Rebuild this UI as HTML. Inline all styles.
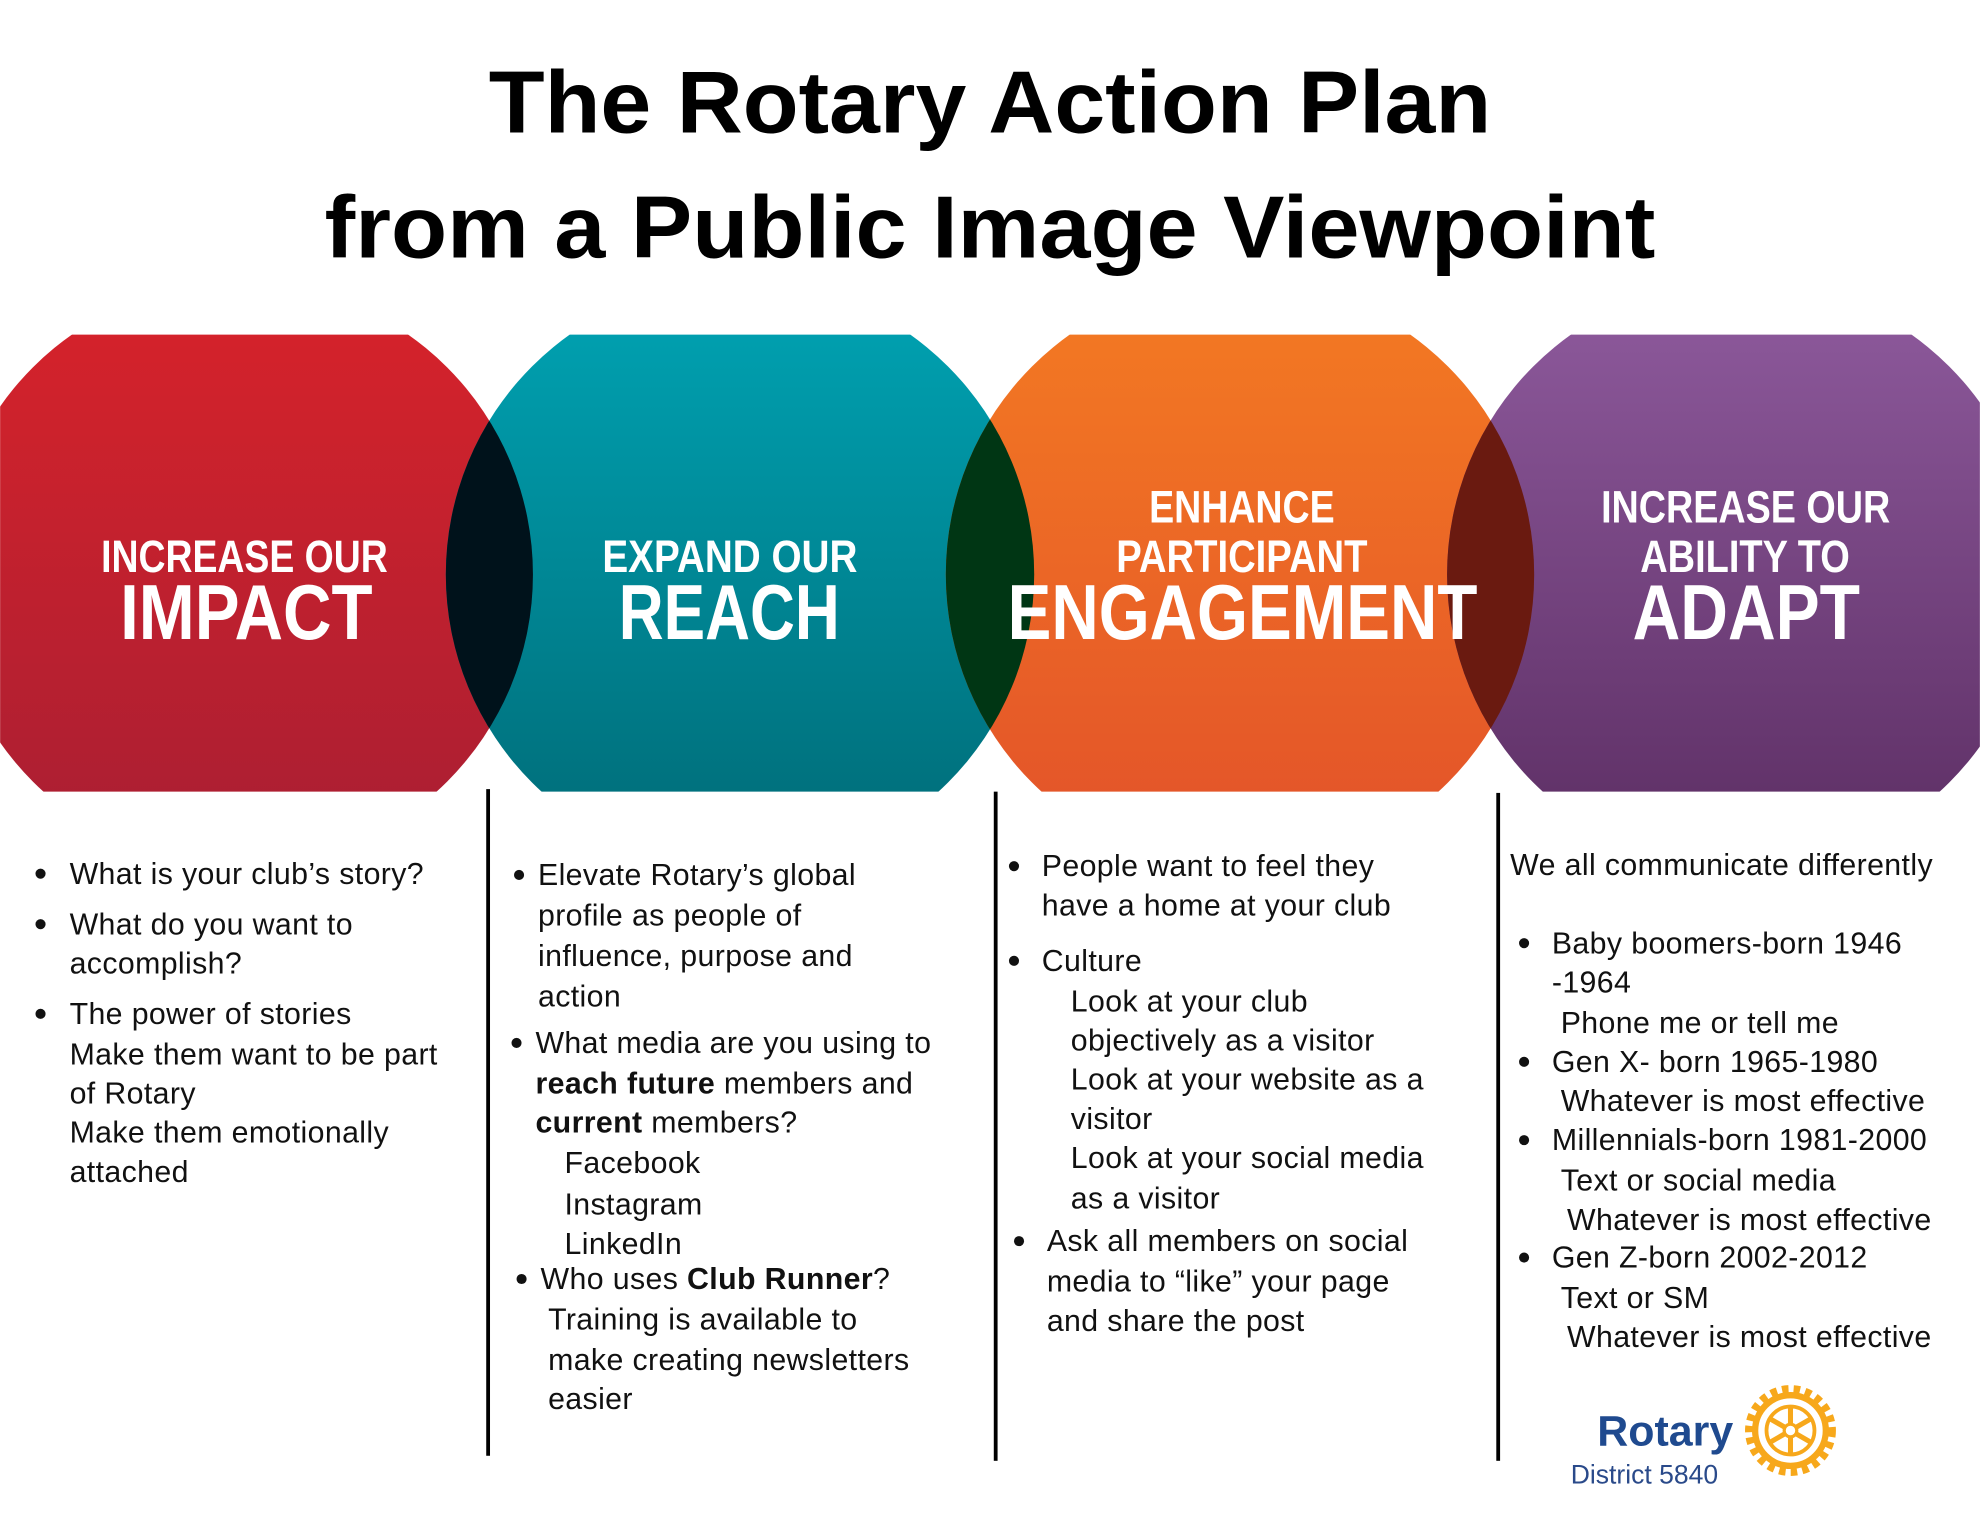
<!DOCTYPE html>
<html><head><meta charset="utf-8"><style>
html,body{margin:0;padding:0;background:#fff;}
svg{display:block;}
text{font-family:"Liberation Sans",sans-serif;}
.b{font-size:24px;fill:#111;letter-spacing:0.3px;}
.h{font-weight:bold;fill:#fff;}
</style></head><body>
<svg width="1980" height="1529" viewBox="0 0 1568 1211" xmlns="http://www.w3.org/2000/svg">
<defs>
<linearGradient id="gr" x1="0" y1="0" x2="0" y2="1"><stop offset="0" stop-color="#d8232a"/><stop offset="1" stop-color="#a81e33"/></linearGradient>
<linearGradient id="gt" x1="0" y1="0" x2="0" y2="1"><stop offset="0" stop-color="#00a4b4"/><stop offset="1" stop-color="#006a76"/></linearGradient>
<linearGradient id="go" x1="0" y1="0" x2="0" y2="1"><stop offset="0" stop-color="#f47b22"/><stop offset="1" stop-color="#e2512a"/></linearGradient>
<linearGradient id="gp" x1="0" y1="0" x2="0" y2="1"><stop offset="0" stop-color="#8f5b9e"/><stop offset="1" stop-color="#5b2d62"/></linearGradient>
<clipPath id="band"><rect x="0" y="265" width="1568" height="362"/></clipPath>
<clipPath id="c2"><circle cx="586" cy="455" r="233"/></clipPath>
<clipPath id="c3"><circle cx="982" cy="455" r="233"/></clipPath>
<clipPath id="c4"><circle cx="1379" cy="455" r="233"/></clipPath>
</defs>
<rect width="1568" height="1211" fill="#fff"/>
<text x="784" y="105" text-anchor="middle" font-size="70" font-weight="bold" fill="#000" textLength="794" lengthAdjust="spacingAndGlyphs">The Rotary Action Plan</text>
<text x="784" y="204" text-anchor="middle" font-size="70" font-weight="bold" fill="#000" textLength="1054" lengthAdjust="spacingAndGlyphs">from a Public Image Viewpoint</text>
<g clip-path="url(#band)">
<circle cx="190" cy="455" r="232" fill="url(#gr)"/>
<circle cx="586" cy="455" r="233" fill="url(#gt)"/>
<circle cx="982" cy="455" r="233" fill="url(#go)"/>
<circle cx="1379" cy="455" r="233" fill="url(#gp)"/>
<circle cx="190" cy="455" r="232" fill="#00121b" clip-path="url(#c2)"/>
<circle cx="586" cy="455" r="233" fill="#003614" clip-path="url(#c3)"/>
<circle cx="982" cy="455" r="233" fill="#6a1a10" clip-path="url(#c4)"/>
</g>
<g class="h">
<text x="80" y="453" font-size="36" textLength="227" lengthAdjust="spacingAndGlyphs" class="h">INCREASE OUR</text>
<text x="95" y="506" font-size="62" textLength="200" lengthAdjust="spacingAndGlyphs" class="h">IMPACT</text>
<text x="477" y="453" font-size="36" textLength="202" lengthAdjust="spacingAndGlyphs" class="h">EXPAND OUR</text>
<text x="490" y="506" font-size="62" textLength="175" lengthAdjust="spacingAndGlyphs" class="h">REACH</text>
<text x="910" y="414" font-size="36" textLength="147" lengthAdjust="spacingAndGlyphs" class="h">ENHANCE</text>
<text x="884" y="453" font-size="36" textLength="199" lengthAdjust="spacingAndGlyphs" class="h">PARTICIPANT</text>
<text x="798" y="506" font-size="62" textLength="372" lengthAdjust="spacingAndGlyphs" class="h">ENGAGEMENT</text>
<text x="1268" y="414" font-size="36" textLength="229" lengthAdjust="spacingAndGlyphs" class="h">INCREASE OUR</text>
<text x="1299" y="453" font-size="36" textLength="166" lengthAdjust="spacingAndGlyphs" class="h">ABILITY TO</text>
<text x="1293" y="506" font-size="62" textLength="180" lengthAdjust="spacingAndGlyphs" class="h">ADAPT</text>
</g>
<rect x="385" y="625" width="3" height="528" fill="#000"/>
<rect x="787" y="627" width="3" height="530" fill="#000"/>
<rect x="1185" y="628" width="3" height="529" fill="#000"/>
<g fill="#111">
<circle cx="32" cy="692" r="4"/><circle cx="32" cy="732" r="4"/><circle cx="32" cy="803" r="4"/>
<circle cx="411" cy="693" r="4"/><circle cx="409" cy="826" r="4"/><circle cx="413" cy="1013" r="4"/>
<circle cx="803" cy="686" r="4"/><circle cx="803" cy="761" r="4"/><circle cx="807" cy="983" r="4"/>
<circle cx="1207" cy="747" r="4"/><circle cx="1207" cy="841" r="4"/><circle cx="1207" cy="903" r="4"/><circle cx="1207" cy="996" r="4"/>
</g>
<g class="b">
<text class="b" x="55" y="700">What is your club’s story?</text>
<text class="b" x="55" y="740">What do you want to</text>
<text class="b" x="55" y="771">accomplish?</text>
<text class="b" x="55" y="811">The power of stories</text>
<text class="b" x="55" y="843">Make them want to be part</text>
<text class="b" x="55" y="874">of Rotary</text>
<text class="b" x="55" y="905">Make them emotionally</text>
<text class="b" x="55" y="936">attached</text>

<text class="b" x="426" y="701">Elevate Rotary’s global</text>
<text class="b" x="426" y="733">profile as people of</text>
<text class="b" x="426" y="765">influence, purpose and</text>
<text class="b" x="426" y="797">action</text>
<text class="b" x="424" y="834">What media are you using to</text>
<text class="b" x="424" y="866"><tspan font-weight="bold">reach future</tspan> members and</text>
<text class="b" x="424" y="897"><tspan font-weight="bold">current</tspan> members?</text>
<text class="b" x="447" y="929">Facebook</text>
<text class="b" x="447" y="962">Instagram</text>
<text class="b" x="447" y="993">LinkedIn</text>
<text class="b" x="428" y="1021">Who uses <tspan font-weight="bold">Club Runner</tspan>?</text>
<text class="b" x="434" y="1053">Training is available to</text>
<text class="b" x="434" y="1085">make creating newsletters</text>
<text class="b" x="434" y="1116">easier</text>

<text class="b" x="825" y="694">People want to feel they</text>
<text class="b" x="825" y="725">have a home at your club</text>
<text class="b" x="825" y="769">Culture</text>
<text class="b" x="848" y="801">Look at your club</text>
<text class="b" x="848" y="832">objectively as a visitor</text>
<text class="b" x="848" y="863">Look at your website as a</text>
<text class="b" x="848" y="894">visitor</text>
<text class="b" x="848" y="925">Look at your social media</text>
<text class="b" x="848" y="957">as a visitor</text>
<text class="b" x="829" y="991">Ask all members on social</text>
<text class="b" x="829" y="1023">media to “like” your page</text>
<text class="b" x="829" y="1054">and share the post</text>

<text class="b" x="1196" y="693">We all communicate differently</text>
<text class="b" x="1229" y="755">Baby boomers-born 1946</text>
<text class="b" x="1229" y="786">-1964</text>
<text class="b" x="1236" y="818">Phone me or tell me</text>
<text class="b" x="1229" y="849">Gen X- born 1965-1980</text>
<text class="b" x="1236" y="880">Whatever is most effective</text>
<text class="b" x="1229" y="911">Millennials-born 1981-2000</text>
<text class="b" x="1236" y="943">Text or social media</text>
<text class="b" x="1241" y="974">Whatever is most effective</text>
<text class="b" x="1229" y="1004">Gen Z-born 2002-2012</text>
<text class="b" x="1236" y="1036">Text or SM</text>
<text class="b" x="1241" y="1067">Whatever is most effective</text>
</g>
<text x="1265" y="1145" font-size="34" font-weight="bold" fill="#1f4a8f">Rotary</text>
<text x="1244" y="1175" font-size="21" fill="#2a4a8a">District 5840</text>
<g transform="translate(1418,1133)" fill="none" stroke="#f7a81b">
<circle r="32" stroke-width="8" stroke-dasharray="5 4"/>
<circle r="28" stroke-width="5"/>
<circle r="19" stroke-width="3"/>
<g stroke-width="4"><line x1="0" y1="-19" x2="0" y2="19"/><line x1="-16.5" y1="-9.5" x2="16.5" y2="9.5"/><line x1="-16.5" y1="9.5" x2="16.5" y2="-9.5"/></g>
<circle r="5" fill="#fff" stroke-width="2.5"/>
</g>
</svg>
</body></html>
